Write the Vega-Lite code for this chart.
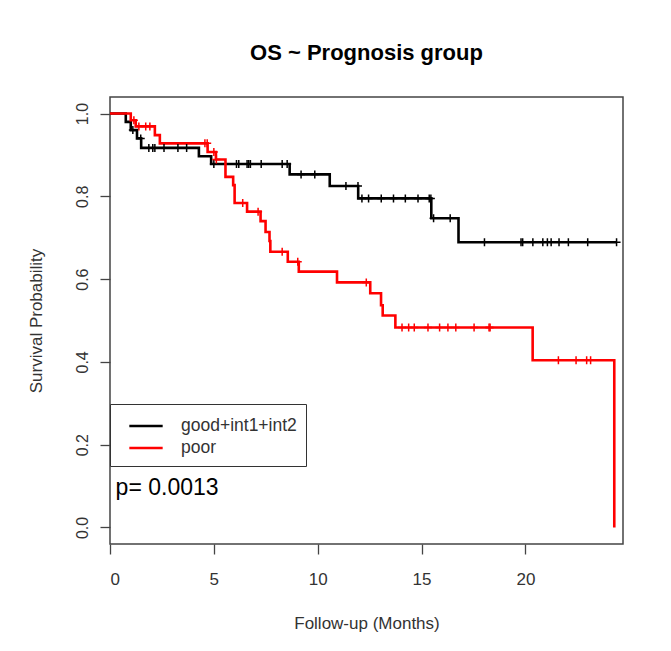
{
  "$schema": "https://vega.github.io/schema/vega-lite/v6.json",
  "width": 513,
  "height": 447,
  "autosize": {"type": "none"},
  "padding": {"left": 110, "top": 97, "right": 48, "bottom": 107},
  "background": "white",
  "title": {"text": "OS ~ Prognosis group", "font": "Liberation Sans", "fontSize": 22, "fontWeight": "bold", "color": "black", "anchor": "middle", "offset": 32},
  "config": {
    "font": "Liberation Sans",
    "view": {"stroke": "#444", "strokeWidth": 1.5},
    "axis": {"domain": false, "grid": false, "tickColor": "#444", "tickWidth": 1.3, "tickSize": 10, "labelColor": "#333", "labelFontSize": 16, "titleColor": "#333", "titleFontSize": 17, "titleFontWeight": "normal", "labelFont": "Liberation Sans", "titleFont": "Liberation Sans"},
    "legend": {"orient": "none", "legendX": 0, "legendY": 307, "strokeColor": "#333", "fillColor": "white", "padding": 9, "symbolType": "M-1.45,0H1.45", "symbolSize": 529, "symbolStrokeWidth": 2.5, "symbolOffset": 14, "labelFontSize": 17.5, "labelColor": "#333", "labelOffset": 22, "rowPadding": 0, "labelFont": "Liberation Sans"}
  },
  "datasets": {
    "curves": [
      {"group": "good+int1+int2", "t": 0, "s": 1},
      {"group": "good+int1+int2", "t": 0.76, "s": 0.98},
      {"group": "good+int1+int2", "t": 1.0, "s": 0.96},
      {"group": "good+int1+int2", "t": 1.3, "s": 0.94},
      {"group": "good+int1+int2", "t": 1.5, "s": 0.917},
      {"group": "good+int1+int2", "t": 4.28, "s": 0.897},
      {"group": "good+int1+int2", "t": 4.87, "s": 0.878},
      {"group": "good+int1+int2", "t": 8.65, "s": 0.853},
      {"group": "good+int1+int2", "t": 10.58, "s": 0.825},
      {"group": "good+int1+int2", "t": 11.95, "s": 0.795},
      {"group": "good+int1+int2", "t": 15.47, "s": 0.747},
      {"group": "good+int1+int2", "t": 16.78, "s": 0.689},
      {"group": "good+int1+int2", "t": 24.4, "s": 0.689},
      {"group": "poor", "t": 0, "s": 1},
      {"group": "poor", "t": 1.0, "s": 0.984},
      {"group": "poor", "t": 1.24, "s": 0.969},
      {"group": "poor", "t": 2.16, "s": 0.948},
      {"group": "poor", "t": 2.4, "s": 0.928},
      {"group": "poor", "t": 4.7, "s": 0.907},
      {"group": "poor", "t": 5.1, "s": 0.889},
      {"group": "poor", "t": 5.56, "s": 0.847},
      {"group": "poor", "t": 5.93, "s": 0.827},
      {"group": "poor", "t": 6.0, "s": 0.784},
      {"group": "poor", "t": 6.6, "s": 0.763},
      {"group": "poor", "t": 7.25, "s": 0.74},
      {"group": "poor", "t": 7.49, "s": 0.714},
      {"group": "poor", "t": 7.68, "s": 0.692},
      {"group": "poor", "t": 7.72, "s": 0.666},
      {"group": "poor", "t": 8.56, "s": 0.642},
      {"group": "poor", "t": 9.09, "s": 0.618},
      {"group": "poor", "t": 10.93, "s": 0.592},
      {"group": "poor", "t": 12.53, "s": 0.566},
      {"group": "poor", "t": 13.05, "s": 0.537},
      {"group": "poor", "t": 13.13, "s": 0.512},
      {"group": "poor", "t": 13.74, "s": 0.483},
      {"group": "poor", "t": 20.35, "s": 0.404},
      {"group": "poor", "t": 24.28, "s": 0.0}
    ],
    "censors": [
      {"group": "good+int1+int2", "t": 1.1, "s": 0.96},
      {"group": "good+int1+int2", "t": 1.48, "s": 0.94},
      {"group": "good+int1+int2", "t": 1.87, "s": 0.917},
      {"group": "good+int1+int2", "t": 2.06, "s": 0.917},
      {"group": "good+int1+int2", "t": 2.16, "s": 0.917},
      {"group": "good+int1+int2", "t": 2.6, "s": 0.917},
      {"group": "good+int1+int2", "t": 3.27, "s": 0.917},
      {"group": "good+int1+int2", "t": 3.69, "s": 0.917},
      {"group": "good+int1+int2", "t": 5.0, "s": 0.878},
      {"group": "good+int1+int2", "t": 6.09, "s": 0.878},
      {"group": "good+int1+int2", "t": 6.2, "s": 0.878},
      {"group": "good+int1+int2", "t": 6.6, "s": 0.878},
      {"group": "good+int1+int2", "t": 6.68, "s": 0.878},
      {"group": "good+int1+int2", "t": 6.76, "s": 0.878},
      {"group": "good+int1+int2", "t": 7.28, "s": 0.878},
      {"group": "good+int1+int2", "t": 8.29, "s": 0.878},
      {"group": "good+int1+int2", "t": 8.53, "s": 0.878},
      {"group": "good+int1+int2", "t": 9.2, "s": 0.853},
      {"group": "good+int1+int2", "t": 9.86, "s": 0.853},
      {"group": "good+int1+int2", "t": 11.36, "s": 0.825},
      {"group": "good+int1+int2", "t": 11.94, "s": 0.825},
      {"group": "good+int1+int2", "t": 12.13, "s": 0.795},
      {"group": "good+int1+int2", "t": 12.45, "s": 0.795},
      {"group": "good+int1+int2", "t": 13.06, "s": 0.795},
      {"group": "good+int1+int2", "t": 13.65, "s": 0.795},
      {"group": "good+int1+int2", "t": 14.22, "s": 0.795},
      {"group": "good+int1+int2", "t": 14.83, "s": 0.795},
      {"group": "good+int1+int2", "t": 15.37, "s": 0.795},
      {"group": "good+int1+int2", "t": 15.45, "s": 0.795},
      {"group": "good+int1+int2", "t": 15.58, "s": 0.747},
      {"group": "good+int1+int2", "t": 16.38, "s": 0.747},
      {"group": "good+int1+int2", "t": 18.03, "s": 0.689},
      {"group": "good+int1+int2", "t": 19.79, "s": 0.689},
      {"group": "good+int1+int2", "t": 19.87, "s": 0.689},
      {"group": "good+int1+int2", "t": 20.36, "s": 0.689},
      {"group": "good+int1+int2", "t": 20.84, "s": 0.689},
      {"group": "good+int1+int2", "t": 21.06, "s": 0.689},
      {"group": "good+int1+int2", "t": 21.24, "s": 0.689},
      {"group": "good+int1+int2", "t": 21.62, "s": 0.689},
      {"group": "good+int1+int2", "t": 22.07, "s": 0.689},
      {"group": "good+int1+int2", "t": 23.0, "s": 0.689},
      {"group": "good+int1+int2", "t": 24.39, "s": 0.689},
      {"group": "poor", "t": 1.15, "s": 0.984},
      {"group": "poor", "t": 1.39, "s": 0.969},
      {"group": "poor", "t": 1.72, "s": 0.969},
      {"group": "poor", "t": 1.92, "s": 0.969},
      {"group": "poor", "t": 4.57, "s": 0.928},
      {"group": "poor", "t": 4.68, "s": 0.928},
      {"group": "poor", "t": 5.0, "s": 0.907},
      {"group": "poor", "t": 5.12, "s": 0.889},
      {"group": "poor", "t": 6.39, "s": 0.784},
      {"group": "poor", "t": 7.13, "s": 0.763},
      {"group": "poor", "t": 8.29, "s": 0.666},
      {"group": "poor", "t": 9.04, "s": 0.642},
      {"group": "poor", "t": 12.34, "s": 0.592},
      {"group": "poor", "t": 14.06, "s": 0.483},
      {"group": "poor", "t": 14.38, "s": 0.483},
      {"group": "poor", "t": 14.65, "s": 0.483},
      {"group": "poor", "t": 15.31, "s": 0.483},
      {"group": "poor", "t": 15.87, "s": 0.483},
      {"group": "poor", "t": 16.27, "s": 0.483},
      {"group": "poor", "t": 16.65, "s": 0.483},
      {"group": "poor", "t": 17.53, "s": 0.483},
      {"group": "poor", "t": 18.25, "s": 0.483},
      {"group": "poor", "t": 18.3, "s": 0.483},
      {"group": "poor", "t": 21.59, "s": 0.404},
      {"group": "poor", "t": 22.44, "s": 0.404},
      {"group": "poor", "t": 22.95, "s": 0.404},
      {"group": "poor", "t": 23.14, "s": 0.404}
    ],
    "annotation": [
      {"label": "p= 0.0013", "t": 0.27, "s": 0.096}
    ]
  },
  "layer": [
    {
      "data": {"name": "curves"},
      "mark": {"type": "line", "interpolate": "step-after", "strokeWidth": 2.6, "clip": true},
      "encoding": {
        "x": {"field": "t", "type": "quantitative", "scale": {"domain": [0, 24.7], "nice": false, "zero": false},
              "axis": {"values": [0, 5, 10, 15, 20], "title": "Follow-up (Months)", "labelFontSize": 17, "labelPadding": 17, "titlePadding": 28}},
        "y": {"field": "s", "type": "quantitative", "scale": {"domain": [-0.04, 1.04], "nice": false, "zero": false},
              "axis": {"values": [0, 0.2, 0.4, 0.6, 0.8, 1.0], "format": ".1f", "title": "Survival Probability", "labelAngle": -90, "labelAlign": "center", "labelBaseline": "bottom", "labelPadding": 10, "titlePadding": 29}},
        "color": {"field": "group", "type": "nominal", "scale": {"domain": ["good+int1+int2", "poor"], "range": ["black", "#ff0000"]}, "legend": {"title": null}},
        "order": {"field": "t", "type": "quantitative"}
      }
    },
    {
      "data": {"name": "censors"},
      "mark": {"type": "point", "shape": "M0,-1L0,1M-1,0L1,0", "size": 64, "filled": false, "strokeWidth": 1.5, "opacity": 1, "clip": true},
      "encoding": {
        "x": {"field": "t", "type": "quantitative"},
        "y": {"field": "s", "type": "quantitative"},
        "stroke": {"field": "group", "type": "nominal", "scale": {"domain": ["good+int1+int2", "poor"], "range": ["black", "#ff0000"]}, "legend": null}
      }
    },
    {
      "data": {"name": "annotation"},
      "mark": {"type": "text", "align": "left", "baseline": "middle", "fontSize": 23, "color": "black", "font": "Liberation Sans"},
      "encoding": {
        "x": {"field": "t", "type": "quantitative"},
        "y": {"field": "s", "type": "quantitative"},
        "text": {"field": "label"}
      }
    }
  ]
}
